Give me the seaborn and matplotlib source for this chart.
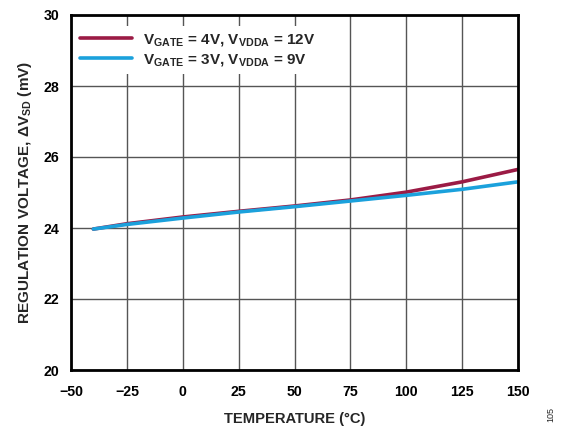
import numpy as np
import pandas as pd
import matplotlib
matplotlib.use("Agg")
import matplotlib.pyplot as plt
import seaborn as sns

temperature = [-40, -25, 0, 25, 50, 75, 100, 125, 150]
v_gate4_vdda12 = [23.97, 24.12, 24.31, 24.47, 24.62, 24.79, 25.01, 25.30, 25.65]
v_gate3_vdda9 = [23.97, 24.10, 24.28, 24.45, 24.60, 24.76, 24.92, 25.09, 25.30]
series_labels = [r"V$_{\mathrm{GATE}}$ = 4V, V$_{\mathrm{VDDA}}$ = 12V",
                 r"V$_{\mathrm{GATE}}$ = 3V, V$_{\mathrm{VDDA}}$ = 9V"]
x_ticks = [-50, -25, 0, 25, 50, 75, 100, 125, 150]
y_ticks = [20, 22, 24, 26, 28, 30]

sns.set_theme(style="white")
plt.rcParams['font.family'] = ['Liberation Sans', 'DejaVu Sans']
plt.rcParams['font.weight'] = 'bold'
plt.rcParams['mathtext.fontset'] = 'custom'
plt.rcParams['mathtext.rm'] = 'Liberation Sans:bold'
plt.rcParams['mathtext.it'] = 'Liberation Sans:bold'
plt.rcParams['mathtext.bf'] = 'Liberation Sans:bold'
plt.rcParams['axes.unicode_minus'] = True

df = pd.DataFrame({
    "temp": temperature * 2,
    "v": v_gate4_vdda12 + v_gate3_vdda9,
    "series": [series_labels[0]] * len(temperature) + [series_labels[1]] * len(temperature),
})

fig = plt.figure(figsize=(5.65, 4.3), dpi=100)
ax = fig.add_axes([71/565, 60/430, 447/565, 355/430])

sns.lineplot(data=df, x="temp", y="v", hue="series",
             palette={series_labels[0]: "#9b1b45", series_labels[1]: "#1ba1dc"},
             linewidth=2.6, ax=ax, sort=False)

ax.set_xlim(-50, 150)
ax.set_ylim(20, 30)
ax.set_xticks(x_ticks)
ax.set_yticks(y_ticks)
ax.set_xticklabels([str(t).replace('-', '\u2212') for t in x_ticks])
ax.set_yticklabels([str(t) for t in y_ticks])
ax.grid(True, color="#555555", linewidth=1.0)
ax.set_axisbelow(True)
for s in ax.spines.values():
    s.set_color("black")
    s.set_linewidth(2.0)
ax.tick_params(axis="both", length=0, labelsize=10.2, colors="black")
ax.tick_params(axis="x", pad=11)
ax.tick_params(axis="y", pad=8.5)
for lab in ax.get_xticklabels() + ax.get_yticklabels():
    lab.set_fontweight("bold")

ax.set_xlabel("TEMPERATURE (°C)", fontsize=10.6, fontweight="bold", labelpad=9)
ax.set_ylabel(r"REGULATION VOLTAGE, $\Delta$V$_{\mathrm{SD}}$ (mV)", fontsize=11,
              fontweight="bold", labelpad=7)

leg = ax.legend(loc="upper left", bbox_to_anchor=(3/447, 1 - 11/355), frameon=True,
                fancybox=False, framealpha=1.0, facecolor="white", edgecolor="none",
                prop={"weight": "bold", "size": 11}, handlelength=3.4,
                handletextpad=0.72, labelspacing=0.25, borderaxespad=0.0,
                borderpad=0.4, title=None)
for line in leg.get_lines():
    line.set_linewidth(2.6)

fig.text(551/565, 1 - 415/430, "105", rotation=90, fontsize=6.5, fontweight="normal",
         ha="center", va="center")

fig.savefig("out.png", dpi=100, facecolor="white")
